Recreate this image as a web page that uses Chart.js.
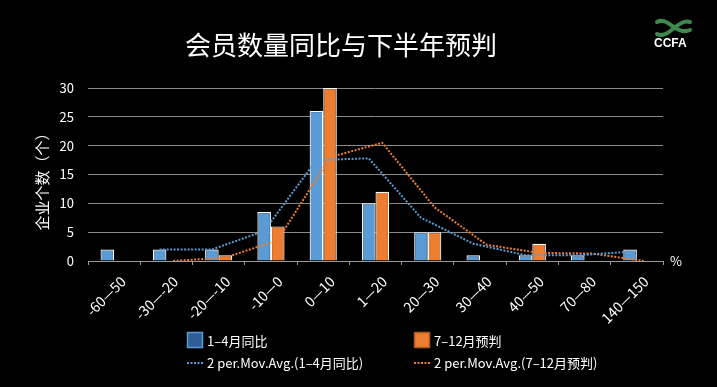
<!DOCTYPE html>
<html>
<head>
<meta charset="utf-8">
<script src="https://cdn.jsdelivr.net/npm/chart.js@4/dist/chart.umd.min.js"></script>
<style>
  html, body { margin: 0; padding: 0; background: #000; }
  #caixa { width: 717px; height: 387px; }
</style>
</head>
<body>
<div id="caixa"><canvas id="grafico" width="717" height="387"></canvas></div>
<script>
// Dados
var categorias = ['-60—50', '-30—-20', '-20—-10', '-10—0', '0—10', '1—20', '20—30', '30—40', '40—50', '70—80', '140—150'];
var valoresJanAbr = [2, 2, 2, 8.5, 26, 10, 5, 1, 1, 1, 2];
var valoresJulDez = [0, 0, 1, 6, 30, 12, 5, 0, 3, 0, 0];
// medias moveis de 2 periodos, como aparecem no grafico
var mediaJanAbr = [null, 2, 2, 5.2, 17.5, 17.8, 7.5, 3, 1, 1, 1.6];
var mediaJulDez = [null, 0, 0.6, 3.6, 18, 20.5, 9.3, 2.8, 1.4, 1.3, 0];
var ticksY = [0, 5, 10, 15, 20, 25, 30];

var nomes = ['1–4月同比', '7–12月预判', '2 per.Mov.Avg.(1–4月同比)', '2 per.Mov.Avg.(7–12月预判)'];

var azul = '#5B9BD5';
var laranja = '#ED7D31';
var fonte = '"Noto Sans CJK SC", "Noto Sans", sans-serif';

// cada categoria fica na posicao i do eixo; as linhas vao para o centro da sua barra
function pontos(valores, desloc) {
  return valores.map(function (v, i) { return { x: i + desloc, y: v }; });
}

var canvas = document.getElementById('grafico');
var ctx = canvas.getContext('2d');

// Textos, fundo, legenda e logotipo
var extras = {
  id: 'extras',
  beforeDraw: function (chart) {
    var c = chart.ctx;
    c.save();
    c.fillStyle = '#000';
    c.fillRect(0, 0, chart.width, chart.height);
    c.restore();
  },
  afterDraw: function (chart) {
    var c = chart.ctx;
    c.save();
    c.fillStyle = '#fff';
    c.textBaseline = 'middle';

    // titulo
    c.font = '26px ' + fonte;
    c.textAlign = 'center';
    c.fillText('会员数量同比与下半年预判', 341, 45);

    // titulo do eixo y
    c.save();
    c.translate(42, 178);
    c.rotate(-Math.PI / 2);
    c.font = '15px ' + fonte;
    c.fillText('企业个数（个）', 0, 0);
    c.restore();

    // unidade
    c.font = '13px ' + fonte;
    c.textAlign = 'left';
    c.fillText('%', 670, 261);

    // legenda
    var ds = chart.data.datasets;
    var colX = [187, 414];
    c.font = '13px ' + fonte;
    // linha 1: barras
    c.fillStyle = '#2F5D95';
    c.fillRect(187, 332, 16, 16);
    c.strokeStyle = azul; c.lineWidth = 1.5;
    c.strokeRect(187.5, 332.5, 15, 15);
    c.fillStyle = laranja;
    c.fillRect(414, 332, 16, 16);
    c.strokeStyle = '#B0581F';
    c.strokeRect(414.5, 332.5, 15, 15);
    c.fillStyle = '#fff';
    c.fillText(ds[0].label, 207, 341);
    c.fillText(ds[1].label, 434, 341);
    // linha 2: medias moveis
    [2, 3].forEach(function (k, j) {
      c.strokeStyle = ds[k].borderColor;
      c.lineWidth = 2;
      c.setLineDash([2, 1.5]);
      c.beginPath();
      c.moveTo(colX[j], 363);
      c.lineTo(colX[j] + 16, 363);
      c.stroke();
      c.setLineDash([]);
      c.fillStyle = '#fff';
      c.fillText(ds[k].label, colX[j] + 20, 363);
    });

    // logotipo CCFA
    c.strokeStyle = '#3E8A4E';
    c.lineWidth = 4;
    c.lineCap = 'round';
    c.beginPath();
    c.moveTo(657, 22);
    c.bezierCurveTo(668, 16, 676, 36, 690, 30);
    c.stroke();
    c.beginPath();
    c.moveTo(657, 34);
    c.bezierCurveTo(668, 40, 678, 18, 690, 22);
    c.stroke();
    c.fillStyle = '#fff';
    c.font = 'bold 12px "Liberation Sans", sans-serif';
    c.textAlign = 'left';
    c.fillText('CCFA', 654, 44);
    c.restore();
  }
};

var grafico = new Chart(ctx, {
  type: 'bar',
  data: {
    datasets: [{
      label: nomes[0],
      data: pontos(valoresJanAbr, 0),
      backgroundColor: azul,
      borderColor: '#fff',
      borderWidth: 1.2,
      categoryPercentage: 0.52,
      barPercentage: 1,
      order: 2
    }, {
      label: nomes[1],
      data: pontos(valoresJulDez, 0),
      backgroundColor: laranja,
      borderColor: '#fff',
      borderWidth: 1.2,
      categoryPercentage: 0.52,
      barPercentage: 1,
      order: 2
    }, {
      type: 'line',
      label: nomes[2],
      data: pontos(mediaJanAbr, -0.13),
      borderColor: azul,
      borderWidth: 2,
      borderDash: [2, 1.5],
      pointRadius: 0,
      spanGaps: true,
      order: 1
    }, {
      type: 'line',
      label: nomes[3],
      data: pontos(mediaJulDez, 0.13),
      borderColor: laranja,
      borderWidth: 2,
      borderDash: [2, 1.5],
      pointRadius: 0,
      spanGaps: true,
      order: 1
    }]
  },
  options: {
    responsive: false,
    animation: false,
    layout: { padding: { top: 88, right: 54, bottom: 56, left: 0 } },
    plugins: {
      legend: { display: false },
      tooltip: { enabled: false }
    },
    scales: {
      x: {
        type: 'linear',
        min: -0.5,
        max: 10.5,
        offset: false,
        grid: {
          offset: true,
          drawOnChartArea: false,
          drawTicks: true,
          tickLength: 4,
          color: '#9a9a9a'
        },
        border: { color: '#9a9a9a', width: 1 },
        ticks: {
          color: '#fff',
          font: { family: fonte, size: 14 },
          minRotation: 45,
          maxRotation: 45,
          padding: 8,
          labelOffset: 9,
          autoSkip: false,
          callback: function (v) { return categorias[v]; }
        },
        afterBuildTicks: function (s) {
          s.ticks = categorias.map(function (_, i) { return { value: i }; });
        },
        afterFit: function (s) { s.height = 70; }
      },
      y: {
        min: 0,
        max: 30,
        grid: { color: '#8a8a8a', drawTicks: false, lineWidth: 1 },
        border: { display: false },
        ticks: {
          color: '#fff',
          font: { family: fonte, size: 13 },
          padding: 14
        },
        afterBuildTicks: function (s) {
          s.ticks = ticksY.map(function (v) { return { value: v }; });
        },
        afterFit: function (s) { s.width = 88; }
      }
    }
  },
  plugins: [extras]
});
</script>
</body>
</html>
